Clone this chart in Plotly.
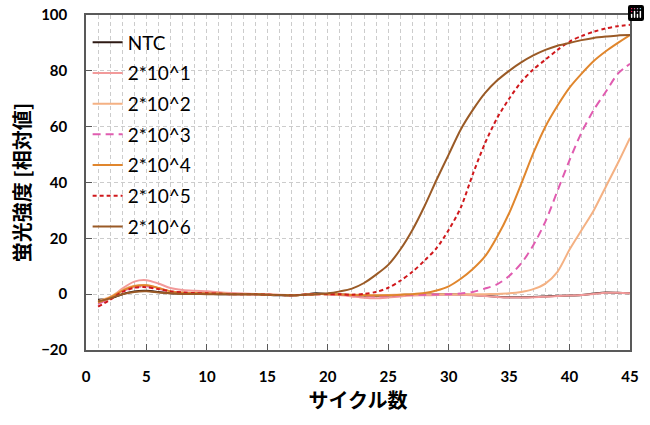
import plotly.graph_objects as go

# cycle numbers
cycles = list(range(1, 46))

# fluorescence (relative), cycles 1..45
ntc = [-2, -1.5, 0, 1, 1.2, 0.8, 0.3, 0.2, 0.2, 0.1,
       0, 0, 0, 0, -0.2, -0.4, -0.5, -0.2, 0.3, 0.1,
       0, -0.3, -0.5, -0.6, -0.5, -0.3, -0.2, -0.1, 0, 0,
       -0.1, -0.3, -0.6, -0.9, -1.1, -1.1, -1, -0.8, -0.6, -0.5,
       -0.3, 0.2, 0.6, 0.5, 0.3]
e1 = [-3, -1.5, 2, 4.5, 5, 3.8, 2.2, 1.5, 1.2, 1,
      0.7, 0.4, 0.2, 0.1, 0, -0.2, -0.3, -0.2, 0, 0,
      -0.3, -0.8, -1.3, -1.5, -1.2, -0.8, -0.5, -0.4, -0.3, -0.2,
      -0.2, -0.4, -0.7, -1, -1.2, -1.2, -1.1, -0.9, -0.7, -0.5,
      -0.3, 0.1, 0.5, 0.5, 0.3]
e2 = [-2.5, -1, 1.5, 3, 3.2, 2.2, 1, 0.6, 0.5, 0.4,
      0.2, 0.1, 0, 0, -0.1, -0.3, -0.4, -0.2, 0, 0,
      -0.1, -0.2, -0.3, -0.4, -0.3, -0.2, -0.1, 0, 0, 0,
      0, 0, 0, 0.1, 0.3, 0.8, 1.8, 3.8, 8, 16,
      23, 30, 38.5, 47, 56]
e3 = [-3.5, -1.5, 1, 2.5, 2.8, 2, 1, 0.5, 0.4, 0.3,
      0.1, 0, 0, 0, -0.2, -0.3, -0.4, -0.2, 0, 0,
      -0.2, -0.4, -0.6, -0.8, -0.6, -0.4, -0.3, -0.2, -0.1, 0,
      0.2, 0.8, 2, 3.5, 6.5, 11, 17.5, 26, 37, 48,
      58, 66, 72.5, 79, 82.5]
e4 = [-3, -1.2, 1.2, 2.8, 3.2, 2.2, 1, 0.5, 0.4, 0.3,
      0.2, 0, 0, 0, -0.2, -0.3, -0.4, -0.2, 0, 0,
      -0.1, -0.3, -0.4, -0.5, -0.4, -0.2, 0, 0.4, 1.3, 2.8,
      5.5, 9, 13.5, 20.5, 29, 39.5, 50.5, 60, 67.5, 74,
      79, 83.5, 87, 90, 92.8]
e5 = [-4.5, -2, 0.8, 2.3, 2.5, 1.8, 1, 0.6, 0.4, 0.3,
      0.2, 0, 0, 0, -0.2, -0.3, -0.4, -0.2, 0, 0,
      0, -0.2, 0.1, 0.8, 2.3, 4.8, 8, 12, 16.5, 23,
      31, 43, 54, 63, 70, 76, 80.5, 84, 87.5, 90.5,
      92.5, 94, 95.2, 96, 96.5]
e6 = [-2.5, -1.5, 0, 0.8, 1, 0.6, 0.3, 0.1, 0.1, 0,
      0, 0, 0, 0, -0.2, -0.3, -0.4, -0.2, 0, 0.3,
      1, 2, 4, 7, 10.5, 16, 23, 31.5, 41, 50,
      59, 66, 72, 76.5, 80, 83, 85.5, 87.5, 89, 90,
      91, 91.8, 92.3, 92.7, 92.8]

series = [
    ("NTC", ntc, "#2e1a14", "solid"),
    ("2*10^1", e1, "#f29a9a", "solid"),
    ("2*10^2", e2, "#f4b183", "solid"),
    ("2*10^3", e3, "#e05cb0", "8px,5px"),
    ("2*10^4", e4, "#e0862d", "solid"),
    ("2*10^5", e5, "#d0181c", "4px,3px"),
    ("2*10^6", e6, "#9a5a26", "solid"),
]

fig = go.Figure()

for i, (name, vals, color, dash) in enumerate(series):
    fig.add_trace(go.Scatter(
        x=cycles,
        y=vals,
        name=name,
        mode='lines',
        legendgroup=str(i),
        line=dict(color=color, width=2, dash=dash, shape='spline', smoothing=0.8),
    ))

font_latin = "Lato, 'Noto Sans CJK JP', sans-serif"
tick_font = dict(size=15, family=font_latin, weight='bold', color='black')
grid = dict(gridcolor='#cccccc', griddash='4px,3px', gridwidth=1)

fig.update_layout(
    width=650,
    height=425,
    margin=dict(l=86, r=20, t=15, b=75),
    paper_bgcolor='white',
    plot_bgcolor='white',
    font=dict(family=font_latin, color='black'),
    # modebar kept but made invisible
    modebar=dict(bgcolor='rgba(0,0,0,0)', color='rgba(0,0,0,0)',
                 activecolor='rgba(0,0,0,0)'),
    showlegend=True,
    legend=dict(
        x=0.003, y=0.975, xanchor='left', yanchor='top',
        bgcolor='rgba(0,0,0,0)',
        font=dict(size=19, family=font_latin, color='black'),
        tracegroupgap=3,
        itemwidth=30,
    ),
    xaxis=dict(
        range=[0, 45],
        tick0=0, dtick=5,
        ticks='inside', ticklen=6, tickcolor='#595959',
        tickfont=tick_font, ticklabelstandoff=12,
        showline=True, linecolor='#595959', linewidth=1.5, mirror=True,
        showgrid=True, **grid,
        minor=dict(dtick=1, showgrid=True, **grid),
        zeroline=False,
        automargin=False,
        title=dict(text='サイクル数', standoff=8,
                   font=dict(size=20, family="'Noto Sans CJK JP'", weight='bold')),
    ),
    yaxis=dict(
        range=[-20, 100],
        tick0=-20, dtick=20,
        ticks='inside', ticklen=6, tickcolor='#595959',
        tickfont=tick_font, ticklabelstandoff=14,
        showline=True, linecolor='#595959', linewidth=1.5, mirror=True,
        showgrid=True, **grid,
        zeroline=False,
        automargin=False,
        title=dict(text='蛍光強度 [相対値]', standoff=5,
                   font=dict(size=20, family="'Noto Sans CJK JP'", weight='bold')),
    ),
)

fig.write_html("out.html", post_script="document.body.style.margin='0';")
